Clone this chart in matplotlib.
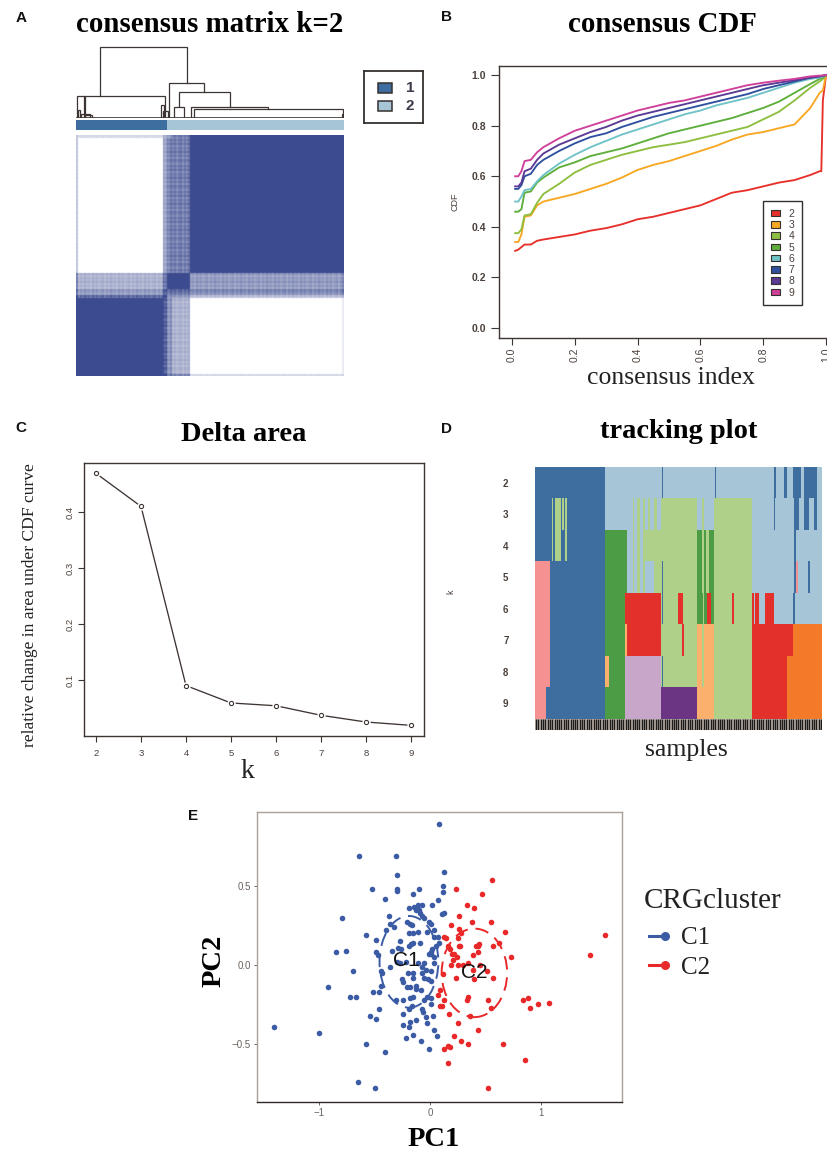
#!/usr/bin/env python
# -*- coding: utf-8 -*-

import numpy as np
import matplotlib
matplotlib.use("Agg")
import matplotlib.pyplot as plt
from matplotlib.colors import LinearSegmentedColormap, ListedColormap
from matplotlib.legend_handler import HandlerLine2D
from matplotlib.lines import Line2D
from matplotlib.patches import Ellipse, Patch, Rectangle

W, H = 828, 1151
SERIF = "Liberation Serif"
SANS = "Liberation Sans"
DARK = "#3d3532"
TICK = "#4a403b"

# A: consensus matrix, blocks of consensus values
mat_col_sizes = [2, 85, 4, 5, 18, 152, 2]
mat_row_sizes = [3, 135, 16, 6, 3, 76, 2]
mat_values = [
    [0.30, 0.22, 0.45, 0.55, 0.75, 1.00, 1.00],
    [0.30, 0.00, 0.50, 0.70, 0.72, 1.00, 1.00],
    [0.65, 0.42, 0.75, 1.00, 1.00, 0.55, 0.72],
    [0.75, 0.55, 0.90, 0.80, 0.80, 0.65, 0.85],
    [1.00, 0.80, 1.00, 0.60, 0.55, 0.35, 0.45],
    [1.00, 1.00, 0.90, 0.60, 0.42, 0.00, 0.12],
    [1.00, 1.00, 1.00, 0.75, 0.70, 0.22, 0.25],
]
mat_stripe = [1.0, 0.82, 1.12, 0.9, 1.2, 0.8, 1.05, 0.92, 1.22, 0.86, 1.1, 0.78, 1.16]

# dendrogram: left, right, height, left leg, right leg
den_left = [24, 1, 93, 103, 115, 118, 98, 2, 5, 9, 85, 87, 266, 8]
den_right = [111, 89, 128, 154, 192, 267, 108, 4, 14, 16, 88, 92, 268, 9]
den_height = [71, 22, 35, 26, 11, 9, 11, 8, 4, 3, 13, 7, 4, 22]
den_left_leg = [22, 0, 0, 12, 0, 0, 0, 0, 0, 0, 0, 0, 0, 0]
den_right_leg = [35, 0, 26, 11, 9, 0, 0, 0, 0, 0, 0, 0, 0, 0]
anno_sizes = [91, 177]
anno_colors = ["#3e6e9f", "#a6c6d8"]

# B: consensus CDF
cdf_k = [2, 3, 4, 5, 6, 7, 8, 9]
cdf_colors = ["#e8302a", "#f7a823", "#8dbe3f", "#5eae3c", "#6fc3c7", "#2f4f9f", "#5a3a94", "#d0409a"]
cdf_x = [0.01, 0.02, 0.03, 0.04, 0.06, 0.08, 0.1, 0.15, 0.2, 0.25, 0.3, 0.35, 0.4, 0.45, 0.5, 0.55, 0.6, 0.65, 0.7,
         0.75, 0.8, 0.85, 0.9, 0.95, 0.98, 0.985, 0.99, 1.0]
cdf_2 = [.305, .31, .32, .33, .33, .345, .35, .36, .37, .385, .395, .41, .43, .44, .455, .47, .485, .51, .535,
         .545, .56, .575, .585, .605, .62, .62, .90, 1.0]
cdf_3 = [.34, .34, .37, .44, .445, .485, .50, .515, .53, .55, .57, .595, .625, .645, .66, .68, .70, .72, .745,
         .765, .775, .79, .805, .87, .93, .935, .94, 1.0]
cdf_4 = [.375, .375, .39, .445, .45, .495, .53, .57, .615, .645, .665, .685, .70, .715, .725, .735, .75, .765, .78,
         .795, .825, .855, .90, .95, .975, .98, .985, 1.0]
cdf_5 = [.46, .46, .47, .535, .54, .575, .595, .635, .655, .68, .695, .71, .73, .75, .77, .785, .80, .815, .83,
         .85, .87, .895, .93, .965, .985, .987, .99, 1.0]
cdf_6 = [.50, .50, .52, .545, .55, .58, .605, .65, .685, .715, .74, .765, .785, .805, .825, .845, .86, .88, .895,
         .91, .93, .95, .97, .985, .99, .992, .995, 1.0]
cdf_7 = [.55, .55, .565, .60, .61, .645, .665, .70, .73, .755, .77, .795, .815, .835, .85, .865, .88, .895, .91,
         .925, .945, .96, .975, .99, .995, .996, .997, 1.0]
cdf_8 = [.56, .56, .575, .62, .63, .665, .69, .725, .75, .775, .795, .82, .84, .855, .87, .885, .90, .915, .93,
         .945, .96, .97, .98, .99, .995, .997, .998, 1.0]
cdf_9 = [.60, .60, .62, .66, .665, .695, .715, .75, .78, .80, .82, .84, .86, .875, .89, .90, .915, .93, .945,
         .96, .97, .978, .985, .995, .998, .998, .999, 1.0]
cdf_all = [cdf_2, cdf_3, cdf_4, cdf_5, cdf_6, cdf_7, cdf_8, cdf_9]

# C: delta area
delta_k = [2, 3, 4, 5, 6, 7, 8, 9]
delta_area = [0.469, 0.41, 0.09, 0.059, 0.054, 0.037, 0.025, 0.019]

# D: tracking plot, each row is (segment end, cluster colour) from sample 316
track_start = 316
track_end = 1175
track_names = {
    "a": "#3e6e9f", "b": "#a6c6d8", "g": "#afd088", "G": "#4c9c45", "p": "#f69191",
    "r": "#e3302b", "o": "#fbb06d", "O": "#f27a28", "l": "#c8a6ca", "v": "#6c3583",
}
track_k2 = [(527, "a"), (696, "b"), (700, "a"), (855, "b"), (859, "a"), (1032, "b"), (1037, "a"), (1062, "b"),
            (1070, "a"), (1088, "b"), (1112, "a"), (1122, "b"), (1160, "a"), (1175, "b")]
track_k3 = [(367, "a"), (370, "g"), (376, "a"), (395, "g"), (397, "a"), (402, "g"), (407, "a"), (413, "g"), (527, "a"),
            (608, "b"), (612, "g"), (622, "b"), (630, "g"), (638, "b"), (644, "g"), (655, "b"), (660, "g"), (672, "b"),
            (680, "g"), (693, "b"), (802, "g"), (815, "b"), (822, "g"), (851, "b"), (964, "g"), (1032, "b"), (1035, "a"),
            (1090, "b"), (1105, "a"), (1122, "b"), (1136, "a"), (1152, "b"), (1160, "a"), (1175, "b")]
track_k4 = [(367, "a"), (370, "g"), (376, "a"), (395, "g"), (407, "a"), (413, "g"), (527, "a"), (590, "G"), (608, "b"),
            (612, "g"), (622, "b"), (630, "g"), (638, "b"), (802, "g"), (815, "G"), (822, "g"), (829, "G"), (836, "g"),
            (851, "G"), (964, "g"), (1090, "b"), (1098, "a"), (1175, "b")]
track_k5 = [(360, "p"), (527, "a"), (590, "G"), (608, "b"), (612, "g"), (620, "b"), (630, "g"), (640, "b"), (645, "g"),
            (672, "b"), (696, "g"), (700, "a"), (802, "g"), (815, "G"), (822, "g"), (829, "G"), (836, "g"), (851, "G"),
            (964, "g"), (1090, "b"), (1096, "a"), (1104, "p"), (1132, "b"), (1138, "a"), (1175, "b")]
track_k6 = [(360, "p"), (527, "a"), (585, "G"), (692, "r"), (696, "g"), (700, "a"), (744, "g"), (760, "r"), (802, "g"),
            (818, "G"), (822, "g"), (830, "G"), (842, "r"), (851, "G"), (907, "g"), (911, "r"), (964, "g"), (972, "r"),
            (975, "b"), (985, "r"), (1004, "b"), (1032, "r"), (1088, "b"), (1094, "a"), (1175, "b")]
track_k7 = [(360, "p"), (527, "a"), (585, "G"), (590, "o"), (692, "r"), (756, "g"), (761, "r"), (802, "g"), (815, "o"),
            (822, "g"), (851, "o"), (964, "g"), (1088, "r"), (1175, "O")]
track_k8 = [(360, "p"), (527, "a"), (538, "o"), (585, "G"), (692, "l"), (696, "g"), (700, "a"), (802, "g"), (815, "o"),
            (822, "g"), (851, "o"), (964, "g"), (1071, "r"), (1175, "O")]
track_k9 = [(350, "p"), (527, "a"), (585, "G"), (692, "l"), (802, "v"), (851, "o"), (964, "g"), (1071, "r"), (1175, "O")]
track_rows = [track_k2, track_k3, track_k4, track_k5, track_k6, track_k7, track_k8, track_k9]
track_labels = ["2", "3", "4", "5", "6", "7", "8", "9"]
n_track_samples = 125

# E: PCA
c1_x = [.08, -.64, -.31, -.30, .13, .12, -.52, -.30, -.30, -.10, -.15, .12, -.41, .07, .02, -.19, -.14, -.11, -.07,
        -.13, -.10, -.09, -.07, -.05, .13, .11, -.37, -.79, -.01, -.21, -.18, -.16, -.36, -.32, -.40, -.58, -.49,
        .01, .04, -.19, -.15, -.11, -.03, .04, .07, -.27, -.15, -.17, -.19, -.09, -.29, -.34, -.26, .08, .05, .02,
        .01, -.01, .01, .04, -.49, -.47, -.85, -.76, -.69, -.92, -.44, -.43, -.44, -.46, -.51, -.67, -.72, -.30,
        -.27, -.22, -.11, -.07, -.04, .04, -.05, -.36, -.20, -.15, -.15, -.07, -.05, -.02, .01, .01, -.25, -.24,
        -.21, -.18, -.13, -.13, -.08, -.31, -.24, -.18, -.15, -.03, -.05, .01, .01, -.16, -.19, -.24, -.07, -.06,
        -.46, -.54, -.49, .03, -.04, -.03, -.13, -.18, -.24, -.19, .04, -.15, -.22, .06, -.08, -.58, -.41, -.01,
        -.65, -.50, -1.41, -1.00]
c1_y = [.89, .69, .69, .57, .59, .50, .48, .48, .47, .48, .45, .46, .42, .41, .38, .36, .37, .38, .38, .35, .35, .33,
        .31, .30, .33, .32, .31, .30, .27, .27, .26, .25, .26, .24, .22, .19, .16, .26, .22, .20, .20, .21, .21, .18,
        .18, .15, .14, .13, .12, .14, .11, .09, .10, .14, .12, .10, .08, .07, .07, .05, .08, .06, .08, .09, -.04,
        -.14, -.04, -.05, -.13, -.17, -.17, -.20, -.20, .02, .01, .02, .01, -.01, -.03, .01, .01, -.01, -.05, -.05,
        -.08, -.05, -.08, -.09, -.04, -.10, -.09, -.11, -.14, -.14, -.13, -.15, -.16, -.22, -.22, -.21, -.20, -.20,
        -.22, -.21, -.25, -.26, -.28, -.31, -.28, -.30, -.28, -.32, -.34, -.32, -.33, -.37, -.35, -.36, -.38, -.39,
        -.41, -.44, -.46, -.45, -.48, -.50, -.55, -.53, -.74, -.78, -.39, -.43]
c2_x = [.56, .23, .47, .33, .40, .26, .38, .55, .19, .26, .28, .25, .68, .13, .14, .26, .27, .16, .18, .20, .22, .24,
        .21, .19, .25, .30, .34, .43, .44, .41, .57, .62, .43, .39, .73, 1.58, 1.44, .12, .23, .39, .45, .51, .57,
        .40, .09, .07, .13, .34, .33, .52, .84, .88, .97, 1.07, .90, .55, .09, .11, .17, .36, .25, .43, .22, .28,
        .34, .66, .13, .16, .18, .86, .16, .52]
c2_y = [.54, .48, .45, .38, .36, .31, .27, .27, .25, .23, .20, .17, .21, .18, .17, .12, .12, .12, .10, .07, .07, .05,
        .03, .00, .00, .00, .01, .12, .13, .12, .12, .14, .08, .06, .05, .19, .06, -.06, -.08, -.03, .00, -.04, -.08,
        -.09, -.16, -.19, -.22, -.20, -.22, -.22, -.22, -.21, -.25, -.24, -.27, -.27, -.26, -.26, -.31, -.32, -.37,
        -.41, -.45, -.48, -.50, -.50, -.53, -.51, -.52, -.60, -.62, -.78]
cluster_names = ["C1", "C2"]
cluster_colors = ["#3b5ba5", "#e9282a"]
ell_cx = [-.19, .40]
ell_cy = [.02, -.05]
ell_w = [.53, .59]
ell_h = [.58, .56]
name_x = [-.21, .40]
name_y = [.03, -.05]


class EndDotHandler(HandlerLine2D):
    # line with a dot only at its right end, as in the ggplot legend
    def create_artists(self, *args, **kwargs):
        artists = super().create_artists(*args, **kwargs)
        artists[-1].set_markevery([1])
        return artists


def px_axes(fig, left, top, right, bottom):
    return fig.add_axes([left / W, 1 - bottom / H, (right - left) / W, (bottom - top) / H])


def fig_text(fig, x, y, s, **kw):
    kw.setdefault("ha", "center")
    kw.setdefault("va", "center")
    return fig.text(x / W, 1 - y / H, s, **kw)


def style_spines(ax, color=DARK, lw=1.0):
    for sp in ax.spines.values():
        sp.set_color(color)
        sp.set_linewidth(lw)


def soften(mat):
    # light blur, the reference is a resampled bitmap
    kernel = [0.15, 0.7, 0.15]
    mat = np.apply_along_axis(lambda v: np.convolve(np.pad(v, 1, mode="edge"), kernel, mode="valid"), 0, mat)
    return np.apply_along_axis(lambda v: np.convolve(np.pad(v, 1, mode="edge"), kernel, mode="valid"), 1, mat)


def consensus_matrix(fig):
    mat = np.repeat(np.repeat(np.array(mat_values), mat_row_sizes, axis=0), mat_col_sizes, axis=1)
    n_row, n_col = mat.shape
    row_pat = np.resize(np.repeat(mat_stripe, 2), n_row)
    col_pat = np.resize(np.repeat(mat_stripe[::-1], 2), n_col)
    soft = (mat > 0.05) & (mat < 0.95)
    mat = np.where(soft, np.clip(mat * np.sqrt(np.outer(row_pat, col_pat)), 0, 1), mat)
    mat = soften(mat)
    cmap = LinearSegmentedColormap.from_list("cons", ["#ffffff", "#3c4b8f"])
    ax = px_axes(fig, 76, 135, 344, 376)
    ax.imshow(mat, cmap=cmap, vmin=0, vmax=1, aspect="auto", interpolation="bilinear")
    ax.axis("off")

    ax = px_axes(fig, 76, 120, 344, 130)
    left = 0
    for size, col in zip(anno_sizes, anno_colors):
        ax.barh(0, size, left=left, height=1, color=col, linewidth=0)
        left += size
    ax.set_xlim(0, sum(anno_sizes))
    ax.set_ylim(-0.5, 0.5)
    ax.axis("off")

    ax = px_axes(fig, 76, 45, 344, 118)
    for l, r, h, a, b in zip(den_left, den_right, den_height, den_left_leg, den_right_leg):
        ax.plot([l, l, r, r], [a, h, h, b], color=DARK, lw=0.9, solid_joinstyle="miter")
    ax.plot([1, 267], [0, 0], color=DARK, lw=1.2)
    ax.set_xlim(0, 268)
    ax.set_ylim(0, 73)
    ax.axis("off")

    ax = px_axes(fig, 364, 71, 423, 123)
    ax.set_xlim(0, 59)
    ax.set_ylim(52, 0)
    ax.set_xticks([])
    ax.set_yticks([])
    style_spines(ax, "#35302e", 1.3)
    for y0, col, lab in zip([12, 30], anno_colors, ["1", "2"]):
        ax.add_patch(Rectangle((14, y0), 14, 10, fc=col, ec="#35302e", lw=1.1))
        ax.text(46, y0 + 5.5, lab, fontsize=11, family=SANS, color="#3a3a4a", ha="center", va="center", weight="bold")

    fig_text(fig, 210, 24, "consensus matrix k=2", family=SERIF, weight="bold", fontsize=20.8, color="black")


def consensus_cdf(fig):
    ax = px_axes(fig, 499, 66, 838, 338)
    for vals, col in zip(cdf_all, cdf_colors):
        ax.plot(cdf_x, vals, color=col, lw=1.35)
    ax.set_xlim(-0.0414, 1.0382)
    ax.set_ylim(-0.0395, 1.036)
    ax.set_xticks([0, 0.2, 0.4, 0.6, 0.8, 1.0])
    ax.set_xticklabels(["0.0", "0.2", "0.4", "0.6", "0.8", "1.0"], rotation=90, fontsize=7.5, family=SANS, color=TICK)
    ax.set_yticks([0, 0.2, 0.4, 0.6, 0.8, 1.0])
    ax.set_yticklabels(["0.0", "0.2", "0.4", "0.6", "0.8", "1.0"], fontsize=7.5, family=SANS, color=TICK, weight="bold")
    ax.tick_params(axis="x", length=5, width=0.8, color=DARK, pad=2)
    ax.tick_params(axis="y", length=5.5, width=0.8, color=DARK, pad=4)
    style_spines(ax)
    handles = [Patch(fc=c, ec="#35302e", lw=0.8, label=str(k)) for k, c in zip(cdf_k, cdf_colors)]
    leg = ax.legend(handles=handles, loc="upper left", bbox_to_anchor=(763 / W, 1 - 201 / H),
                    bbox_transform=fig.transFigure, fancybox=False, edgecolor="#35302e",
                    framealpha=1, borderaxespad=0, labelspacing=0.12, handlelength=0.85, handleheight=0.6,
                    handletextpad=0.85, borderpad=0.75, prop={"family": SANS, "size": 7.5})
    leg.get_frame().set_linewidth(1.0)
    for t in leg.get_texts():
        t.set_color(TICK)

    fig_text(fig, 662, 24, "consensus CDF", family=SERIF, weight="bold", fontsize=20.8, color="black")
    fig_text(fig, 671, 378, "consensus index", family=SERIF, fontsize=18.5, color="#222222")
    fig_text(fig, 455, 202, "CDF", family=SANS, fontsize=6.5, rotation=90, color=TICK)


def delta_plot(fig):
    ax = px_axes(fig, 84, 463, 424, 736)
    ax.plot(delta_k, delta_area, color=DARK, lw=0.95)
    ax.plot(delta_k, delta_area, "o", ms=6, mfc="white", mec="none")
    ax.plot(delta_k, delta_area, "o", ms=3, mfc="white", mec=DARK, mew=0.8)
    ax.set_xlim(1.733, 9.29)
    ax.set_ylim(0.0, 0.4875)
    ax.set_xticks(delta_k)
    ax.set_xticklabels([str(k) for k in delta_k], fontsize=6.8, family=SANS, color=TICK)
    ax.set_yticks([0.1, 0.2, 0.3, 0.4])
    ax.set_yticklabels(["0.1", "0.2", "0.3", "0.4"], rotation=90, va="center", fontsize=6.8, family=SANS, color=TICK)
    ax.tick_params(axis="x", length=4, width=0.8, color=DARK, pad=5)
    ax.tick_params(axis="y", length=4, width=0.8, color=DARK, pad=3)
    style_spines(ax)
    fig_text(fig, 244, 434, "Delta area", family=SERIF, weight="bold", fontsize=20.5, color="black")
    fig_text(fig, 247, 772, "k", family=SERIF, fontsize=20, color="#222222")
    fig_text(fig, 30, 605, "relative change in area under CDF curve", family=SERIF, fontsize=12.6,
             rotation=90, color="#222222")


def tracking_plot(fig):
    keys = list(track_names)
    cmap = ListedColormap([track_names[k] for k in keys])
    mat = np.zeros((len(track_rows), track_end - track_start), dtype=int)
    for i, row in enumerate(track_rows):
        start = track_start
        for end, name in row:
            mat[i, start - track_start:end - track_start] = keys.index(name)
            start = end
    ax = px_axes(fig, 535, 467, 822, 719)
    ax.imshow(mat, cmap=cmap, vmin=0, vmax=len(keys) - 1, aspect="auto",
              extent=(track_start, track_end, len(track_rows) - 0.5, -0.5), interpolation="nearest")
    for sp in ax.spines.values():
        sp.set_visible(False)
    ax.set_xticks([])
    ax.set_yticks(range(len(track_labels)))
    ax.set_yticklabels(track_labels, fontsize=7, family=SANS, color=TICK, weight="bold", ha="center")
    ax.tick_params(length=0, pad=21)

    ax = px_axes(fig, 535, 719, 822, 730)
    ax.vlines(np.arange(n_track_samples) + 0.5, 0, 1, color="#1d1a1a", lw=1.05)
    ax.set_facecolor("#c4bab2")
    ax.set_xlim(0, n_track_samples)
    ax.set_ylim(0, 1)
    ax.set_xticks([])
    ax.set_yticks([])
    for sp in ax.spines.values():
        sp.set_visible(False)

    fig_text(fig, 679, 432, "tracking plot", family=SERIF, weight="bold", fontsize=20.5, color="black")
    fig_text(fig, 686, 750, "samples", family=SERIF, fontsize=18.5, color="#222222")
    fig_text(fig, 451, 592, "k", family=SANS, fontsize=6.5, rotation=90, color=TICK)


def pca_plot(fig):
    ax = px_axes(fig, 257, 812, 622, 1102)
    series = [(c1_x, c1_y), (c2_x, c2_y)]
    for (xs, ys), col in zip(series, cluster_colors):
        ax.scatter(xs, ys, s=16, color=col, linewidths=0, zorder=3)
    for i, name in enumerate(cluster_names):
        ax.add_patch(Ellipse((ell_cx[i], ell_cy[i]), ell_w[i], ell_h[i], fill=False, ec=cluster_colors[i],
                             lw=1.4, ls=(0, (7, 4)), zorder=2))
        ax.text(name_x[i], name_y[i], name, fontsize=15, family=SANS, color="#111111",
                ha="center", va="center", zorder=4)
    ax.set_xlim(-1.559, 1.73)
    ax.set_ylim(-0.867, 0.968)
    ax.set_xticks([-1, 0, 1])
    ax.set_xticklabels(["\u22121", "0", "1"], fontsize=7, family=SANS, color="#6b625c")
    ax.set_yticks([-0.5, 0, 0.5])
    ax.set_yticklabels(["\u22120.5", "0.0", "0.5"], fontsize=7, family=SANS, color="#6b625c")
    ax.tick_params(length=2.5, width=0.7, color="#6b625c", pad=2)
    style_spines(ax, "#a89f98", 1.0)
    ax.spines["bottom"].set_color("#2e2825")

    handles = [Line2D([0], [0], color=c, lw=2.2, marker="o", ms=5.5, label=n)
               for n, c in zip(cluster_names, cluster_colors)]
    leg = ax.legend(handles=handles, loc="upper left", bbox_to_anchor=(648 / W, 1 - 927 / H),
                    bbox_transform=fig.transFigure, frameon=False, borderaxespad=0, borderpad=0,
                    handler_map={Line2D: EndDotHandler(marker_pad=0.05, numpoints=2)},
                    handlelength=0.72, handletextpad=0.6, labelspacing=0.26,
                    prop={"family": SERIF, "size": 18})
    for t in leg.get_texts():
        t.set_color("#222222")

    fig_text(fig, 713, 901, "CRGcluster", family=SERIF, fontsize=21, color="#222222")
    fig_text(fig, 434, 1139, "PC1", family=SERIF, weight="bold", fontsize=20.5, color="black")
    fig_text(fig, 214, 961, "PC2", family=SERIF, weight="bold", fontsize=20.5, rotation=90, color="black")


if __name__ == '__main__':
    fig = plt.figure(figsize=(W / 100, H / 100), dpi=100)
    consensus_matrix(fig)
    consensus_cdf(fig)
    delta_plot(fig)
    tracking_plot(fig)
    pca_plot(fig)
    for lab, x, y in zip("ABCDE", [21, 447, 21, 447, 193], [18, 17, 428, 429, 816]):
        fig_text(fig, x, y, lab, family=SANS, weight="bold", fontsize=11, color="#111111")
    fig.savefig("out.png", dpi=100)
